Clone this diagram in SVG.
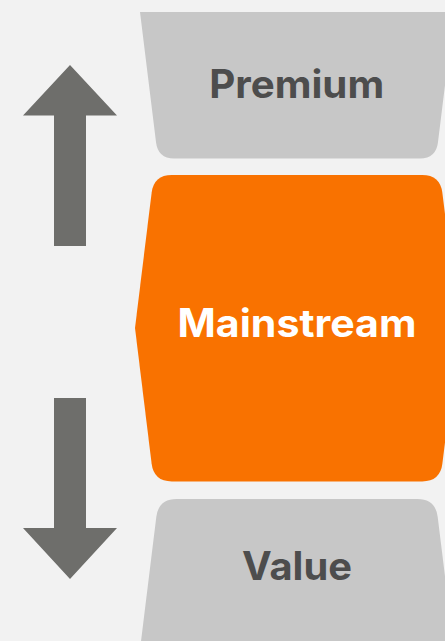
<svg xmlns="http://www.w3.org/2000/svg" width="445" height="641" viewBox="0 0 445 641">
<style>
.bg{fill:#f2f2f2}
.tier{fill:#c7c7c7}
.main{fill:#f97200}
.arrow{fill:#6e6e6b}
.lbl{font-family:Inter,"Liberation Sans",Arial,sans-serif;font-weight:bold;font-size:39px;text-anchor:middle}
.dark{fill:#4d4d4d}
.light{fill:#ffffff}
</style>
<rect class="bg" x="0" y="0" width="445" height="641"/>
<g id="premium">
<path class="tier" d="M140,12 L454,12 L437.95,142.6 Q436,158.5 420,158.5 L174,158.5 Q158,158.5 156.05,142.6 Z"/>
<text class="lbl dark" x="296.7" y="98.3" textLength="175" lengthAdjust="spacingAndGlyphs">Premium</text>
</g>
<g id="mainstream">
<path class="main" d="M171.8,175 L422.2,175 Q440.2,175 442.4,192.9 L459,328 L442.4,463.6 Q440.2,481.5 422.2,481.5 L171.8,481.5 Q153.8,481.5 151.6,463.6 L135,328 L151.6,192.9 Q153.8,175 171.8,175 Z"/>
<text class="lbl light" x="297" y="337.3" textLength="239" lengthAdjust="spacingAndGlyphs">Mainstream</text>
</g>
<g id="value">
<path class="tier" d="M176.5,499 L417.5,499 Q435.5,499 437.7,516.9 L455.3,660 L138.7,660 L156.3,516.9 Q158.5,499 176.5,499 Z"/>
<text class="lbl dark" x="297" y="580" textLength="110" lengthAdjust="spacingAndGlyphs">Value</text>
</g>
<g id="connectors">
<polygon class="arrow" points="70,65 117,115.5 86,115.5 86,246 54,246 54,115.5 23,115.5"/>
<polygon class="arrow" points="54,398 86,398 86,528 117,528 70,579 23,528 54,528"/>
</g>
</svg>
